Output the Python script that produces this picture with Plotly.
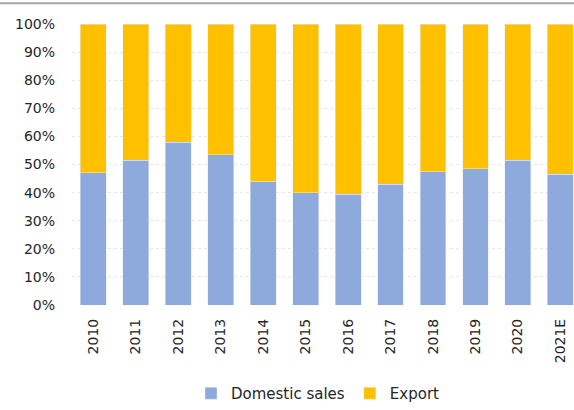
import plotly.graph_objects as go

years = ["2010", "2011", "2012", "2013", "2014", "2015", "2016",
         "2017", "2018", "2019", "2020", "2021E"]
domestic = [47, 51.5, 58, 53.5, 44, 40, 39.5, 43, 47.5, 48.5, 51.5, 46.5]
export = [round(100 - d, 1) for d in domestic]
y_ticks = list(range(0, 101, 10))
y_labels = [f"{v}%" for v in y_ticks]

fig = go.Figure()
fig.add_trace(go.Bar(x=years, y=domestic, name="Domestic sales",
                     marker_color="#8EA9DB", width=0.61))
fig.add_trace(go.Bar(x=years, y=export, name="Export",
                     marker_color="#FFC000", width=0.61))

fig.update_layout(
    barmode="stack",
    width=574, height=410,
    margin=dict(l=72, r=0, t=24, b=102),
    paper_bgcolor="white", plot_bgcolor="white",
    font=dict(family="DejaVu Sans", size=14, color="#262626"),
    showlegend=True,
    legend=dict(orientation="h", x=0.49, xanchor="center", y=-0.317, yanchor="middle",
                font=dict(size=15, color="#262626"), traceorder="normal",
                itemwidth=30),
    shapes=[dict(type="line", xref="paper", yref="paper", x0=-0.2, x1=1.0,
                 y0=1.074, y1=1.074, line=dict(color="#a6a6a6", width=2))],
)
fig.update_xaxes(type="category", range=[-0.5, 11.32], tickangle=-90,
                 showgrid=False, showline=False, ticks="",
                 ticklabelstandoff=10,
                 tickfont=dict(size=14, color="#262626"))
fig.update_yaxes(range=[0, 100], tickvals=y_ticks, ticktext=y_labels,
                 showgrid=True, gridcolor="#e6e6e6", griddash="dot",
                 zeroline=False, showline=False, ticks="",
                 ticklabelstandoff=16,
                 tickfont=dict(size=14, color="#262626"))

fig.write_html("out.html")
